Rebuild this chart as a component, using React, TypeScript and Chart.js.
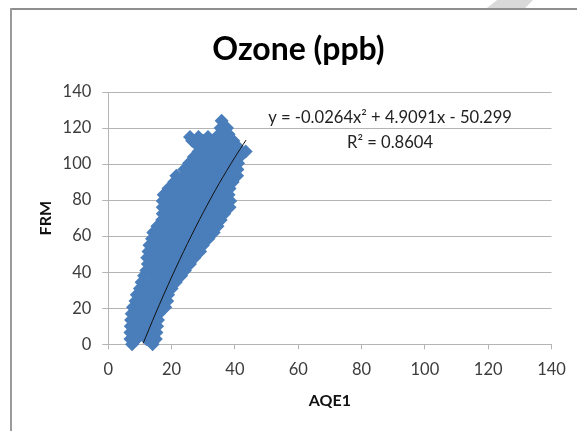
import { useEffect, useRef } from "react";
import { Chart, registerables } from "chart.js";

Chart.register(...registerables);

const titleText = "Ozone (ppb)";
const xAxisTitle = "AQE1";
const yAxisTitle = "FRM";
const equationLines = ["y = -0.0264x² + 4.9091x - 50.299", "R² = 0.8604"];

const frmRows = [0, 3, 6.5, 10, 13.5, 17, 20.5, 24, 27.5, 31, 34.5, 38, 41, 44.5, 48, 51.5, 55, 58.5, 62, 65.5, 69, 72.5, 76, 79.5, 83, 86.5, 90, 93.5, 97, 100.5, 104, 107, 110, 113, 115, 116.5, 120, 124];
const aqeRows = [
  [7.5, 14],
  [7, 9, 12, 15],
  [7, 10.5, 13.5, 15.2],
  [7.1, 9, 12, 15.4],
  [7.2, 10.5, 13.5, 15.7],
  [7.4, 9, 12, 15, 16],
  [7.8, 10.5, 13.5, 16.5, 18],
  [8.6, 12, 15, 18.6],
  [9, 10.5, 13.5, 16.5, 18.9],
  [10, 12, 15, 18, 20],
  [10.5, 13.5, 16.5, 19.5, 21.3],
  [11.3, 15, 18, 21, 23],
  [12, 13.5, 16.5, 19.5, 22.5, 24.2],
  [12.5, 15, 18, 21, 24, 25.8],
  [12.3, 13.5, 16.5, 19.5, 22.5, 25.5, 27.2],
  [12.7, 15, 18, 21, 24, 27, 29],
  [13, 16.5, 19.5, 22.5, 25.5, 28.5, 29.9],
  [13.8, 15, 18, 21, 24, 27, 30, 31.6],
  [14.2, 16.5, 19.5, 22.5, 25.5, 28.5, 31.5, 33.3],
  [15.5, 18, 21, 24, 27, 30, 33, 34.5],
  [17, 19.5, 22.5, 25.5, 28.5, 31.5, 34.5, 35.5],
  [17.2, 18, 21, 24, 27, 30, 33, 36, 36.6],
  [17.2, 19.5, 22.5, 25.5, 28.5, 31.5, 34.5, 37.5, 38.3],
  [17.2, 18, 21, 24, 27, 30, 33, 36, 38.5],
  [17.5, 19.5, 22.5, 25.5, 28.5, 31.5, 34.5, 37.5, 38],
  [19, 21, 24, 27, 30, 33, 36, 38.3],
  [20.8, 22.5, 25.5, 28.5, 31.5, 34.5, 37.5, 39.3],
  [21.5, 24, 27, 30, 33, 36, 39, 40.7],
  [24, 25.5, 28.5, 31.5, 34.5, 37.5, 40.5, 40.8],
  [25.5, 27, 30, 33, 36, 39, 41],
  [27, 28.5, 31.5, 34.5, 37.5, 40.5, 41.5],
  [28.5, 30, 33, 36, 39, 42, 43.4],
  [28.3, 31.5, 34.5, 37.5, 40.6],
  [26.5, 30, 33, 36, 39.5],
  [25.8, 28.5, 31.5, 34.5, 37.5],
  [35, 38],
  [35.5, 37.5],
  [35.8],
];

const trendX = [11, 15, 20, 25, 30, 35, 40, 43.5];
const trendY = [0.5, 17.4, 37.3, 55.9, 73.2, 89.2, 103.8, 113.3];

const scatterPoints = frmRows.flatMap((y, i) => aqeRows[i].map((x) => ({ x, y })));
const trendPoints = trendX.map((x, i) => ({ x, y: trendY[i] }));

const tickColor = "#3c3c3c";
const gridColor = "#b4b4b4";
const fontFamily = "Lato, 'Open Sans', sans-serif";

const equationPlugin = {
  id: "equation",
  afterDatasetsDraw(chart: any) {
    const { ctx, scales } = chart;
    ctx.save();
    ctx.font = `16.6px ${fontFamily}`;
    ctx.fillStyle = "#222222";
    ctx.textAlign = "center";
    ctx.textBaseline = "middle";
    ctx.fillText(equationLines[0], scales.x.getPixelForValue(89), scales.y.getPixelForValue(125.6));
    ctx.fillText(equationLines[1], scales.x.getPixelForValue(89), scales.y.getPixelForValue(112));
    ctx.restore();
  },
};

export default function App() {
  const ref = useRef<HTMLCanvasElement>(null);
  useEffect(() => {
    const chart = new Chart(ref.current!, {
      type: "scatter",
      data: {
        datasets: [
          {
            label: "Trend",
            data: trendPoints,
            showLine: true,
            borderColor: "#111111",
            borderWidth: 1,
            pointRadius: 0,
            tension: 0.3,
            order: 0,
            clip: false,
          },
          {
            label: "FRM",
            data: scatterPoints,
            backgroundColor: "#4a7ebb",
            borderColor: "#4a7ebb",
            borderWidth: 0,
            pointStyle: "rectRot",
            pointRadius: 7,
            order: 1,
            clip: false,
          },
        ],
      },
      options: {
        responsive: false,
        animation: false,
        layout: { padding: { left: 45.5, right: 25.5, top: 0, bottom: 0 } },
        plugins: {
          legend: { display: false },
          tooltip: { enabled: false },
          title: {
            display: true,
            text: titleText,
            color: "#000000",
            font: { family: fontFamily, size: 32, weight: "bold", lineHeight: 1 },
            padding: { top: 34, bottom: 26 },
          },
        },
        scales: {
          x: {
            type: "linear",
            min: 0,
            max: 140,
            afterFit: (s: any) => {
              s.height = 86.7;
            },
            ticks: { stepSize: 20, color: tickColor, font: { family: fontFamily, size: 16.5 }, maxRotation: 0, padding: 10 },
            grid: { drawOnChartArea: false, drawTicks: true, tickLength: 5, color: gridColor },
            border: { color: gridColor },
            title: {
              display: true,
              text: xAxisTitle,
              color: "#111111",
              font: { family: fontFamily, size: 16, weight: "bold" },
              padding: { top: 0, bottom: 21 },
            },
          },
          y: {
            type: "linear",
            min: 0,
            max: 140,
            afterFit: (s: any) => {
              s.width = 62.8;
            },
            ticks: { stepSize: 20, color: tickColor, font: { family: fontFamily, size: 16.5 }, padding: 11 },
            grid: { tickLength: 6, color: gridColor },
            border: { color: gridColor },
            title: {
              display: true,
              text: yAxisTitle,
              color: "#111111",
              font: { family: fontFamily, size: 16, weight: "bold" },
              padding: { top: -9, bottom: 0 },
            },
          },
        },
      },
      plugins: [equationPlugin],
    } as any);
    return () => chart.destroy();
  }, []);

  return (
    <div style={{ position: "fixed", left: 0, top: 0, width: 577, height: 431, background: "#fff", overflow: "hidden" }}>
      <div style={{ position: "absolute", left: 487, top: 0, width: 46, height: 8, background: "#d9d9d9", clipPath: "polygon(22% 0, 100% 0, 83% 100%, 0 100%)" }} />
      <div style={{ position: "absolute", left: 10, top: 8, width: 567, height: 2, background: "#8f8f8f" }} />
      <div style={{ position: "absolute", left: 10, top: 8, width: 2, height: 423, background: "#9a9a9a" }} />
      <canvas ref={ref} width={577} height={431} style={{ position: "absolute", left: 0, top: 0, display: "block" }} />
    </div>
  );
}
